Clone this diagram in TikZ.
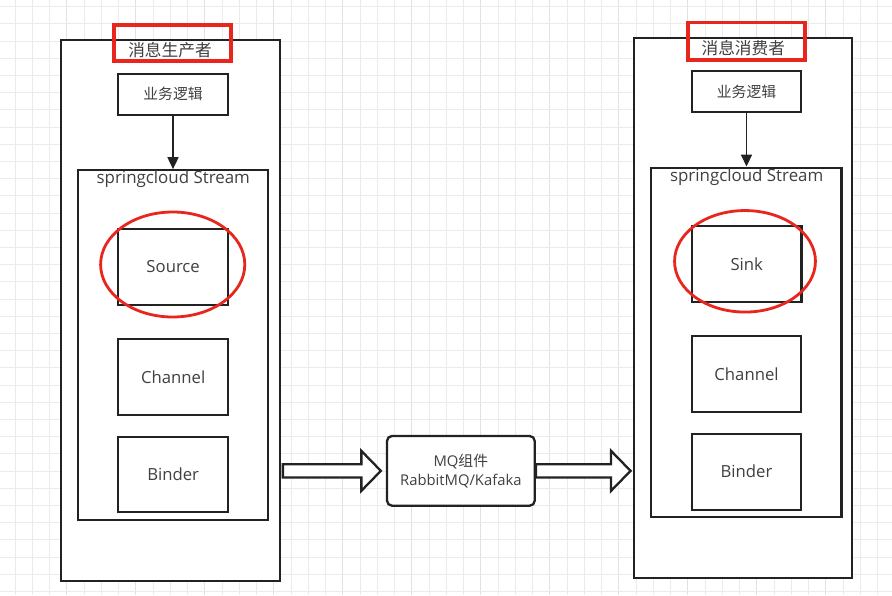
\documentclass[tikz,border=0pt]{standalone}
\usepackage{fontspec}
\setmainfont{Open Sans}
\newfontfamily\cjk{Noto Sans CJK SC}
\usetikzlibrary{arrows.meta,calc}
\definecolor{gridminor}{HTML}{EBEBEB}
\definecolor{gridmajor}{HTML}{E2E2E2}
\definecolor{ink}{HTML}{222222}
\definecolor{txt}{HTML}{404040}
\definecolor{mark}{HTML}{E8261E}
\tikzset{
  box/.style={draw=ink, line width=2.3pt, fill=white, inner sep=0pt, text=txt,
    font=\fontsize{16.7}{20}\selectfont},
  outerbox/.style={box},
  redbox/.style={draw=mark, line width=3.5pt, inner sep=0pt},
  redring/.style={draw=mark, line width=2.8pt},
  lbl/.style={inner sep=0pt, text=txt, font=\fontsize{16.9}{20}\selectfont},
  title/.style={inner sep=0pt, text=txt, font=\cjk\fontsize{16.7}{20}\selectfont},
  biz/.style={box, font=\cjk\fontsize{14.8}{18}\selectfont},
  mqbox/.style={box, rounded corners=5pt, align=center,
    font=\fontsize{14.8}{18.5}\selectfont},
  flow/.style={draw=ink, line width=1.7pt, -{Triangle[length=12pt,width=11pt]}},
  barrow/.style={draw=ink, line width=2.3pt, fill=white, line join=miter}
}
\newcommand{\blkarrow}[2]{%
  \draw[barrow] let \p1=(#1), \p2=(#2) in
  (\x1,\y1+6.7pt) -- (\x2-19.5pt,\y1+6.7pt) -- (\x2-19.5pt,\y1+20pt) --
  (\x2,\y1) -- (\x2-19.5pt,\y1-20pt) -- (\x2-19.5pt,\y1-6.7pt) --
  (\x1,\y1-6.7pt) -- cycle;}
\begin{document}
\begin{tikzpicture}[x=1pt,y=-1pt]
\useasboundingbox (0,0) rectangle (892,595);
\fill[white] (0,0) rectangle (892,595);
% grid
\foreach \i in {0,...,51}{
  \pgfmathsetmacro\xx{15.05+17.25*\i}
  \draw[gridminor, line width=1.1pt] (\xx,0) -- (\xx,595);
}
\foreach \i in {3,7,...,51}{
  \pgfmathsetmacro\xx{15.05+17.25*\i}
  \draw[gridmajor, line width=1.2pt] (\xx,0) -- (\xx,595);
}
\foreach \k in {0,...,34}{
  \pgfmathsetmacro\yy{6.7+17.2*\k}
  \draw[gridminor, line width=1.1pt] (0,\yy) -- (892,\yy);
}

% ---------- producer ----------
\node[outerbox, minimum width=218.7pt, minimum height=540.4pt] (outerL) at (170.35,310.5) {};
\node[title] (titleL) at (170,50) {消息生产者};
\node[redbox, minimum width=117pt, minimum height=36.4pt] (redL) at (172.3,43) {};
\node[biz, minimum width=109.4pt, minimum height=41.3pt] (bizL) at (173,94.35) {业务逻辑};
\node[box, minimum width=189.9pt, minimum height=349.7pt] (streamL) at (173.25,345.15) {};
\node[lbl] (streamLt) at (173.3,179) {springcloud Stream};
\node[box, minimum width=109.7pt, minimum height=76.3pt] (sourceL) at (173.15,266.85) {Source};
\node[box, minimum width=109.7pt, minimum height=75.4pt] (channelL) at (173.15,377) {Channel};
\node[box, minimum width=109.7pt, minimum height=75.6pt] (binderL) at (173.15,474.5) {Binder};
\draw[redring] (172.7,264.5) ellipse [x radius=72.1, y radius=52.5];
\draw[flow] (bizL.south) -- (bizL.south |- streamL.north);

% ---------- consumer ----------
\node[outerbox, minimum width=218.6pt, minimum height=539.7pt] (outerR) at (743,308.15) {};
\node[title] (titleR) at (743.3,47.7) {消息消费者};
\node[redbox, minimum width=117pt, minimum height=37.7pt] (redR) at (746.7,41.35) {};
\node[biz, minimum width=109.6pt, minimum height=41.3pt] (bizR) at (746.5,91.65) {业务逻辑};
\node[box, minimum width=190.5pt, minimum height=349.6pt] (streamR) at (746.25,342.5) {};
\node[lbl] (streamRt) at (746.7,176.7) {springcloud Stream};
\node[box, minimum width=109.5pt, minimum height=76.3pt] (sinkR) at (746.75,264.15) {Sink};
\node[box, minimum width=109.6pt, minimum height=76.3pt] (channelR) at (746.5,374.15) {Channel};
\node[box, minimum width=109.6pt, minimum height=76pt] (binderR) at (746.5,471.7) {Binder};
\draw[redring] (745,261.3) ellipse [x radius=70.45, y radius=50.75];
\draw[flow] (bizR.south) -- (bizR.south |- streamR.north);

% ---------- MQ ----------
\node[mqbox, minimum width=147.7pt, minimum height=69.7pt] (mq) at (460.85,470.85)
  {MQ{\cjk 组件}\\RabbitMQ/Kafaka};
\coordinate (a1s) at ($(outerL.east |- mq.west)+(2,0)$);
\coordinate (a1e) at ($(mq.west)+(-5,0)$);
\coordinate (a2s) at (mq.east);
\coordinate (a2e) at ($(outerR.west |- mq.east)+(-2,0)$);
\blkarrow{a1s}{a1e}
\blkarrow{a2s}{a2e}
\end{tikzpicture}
\end{document}
